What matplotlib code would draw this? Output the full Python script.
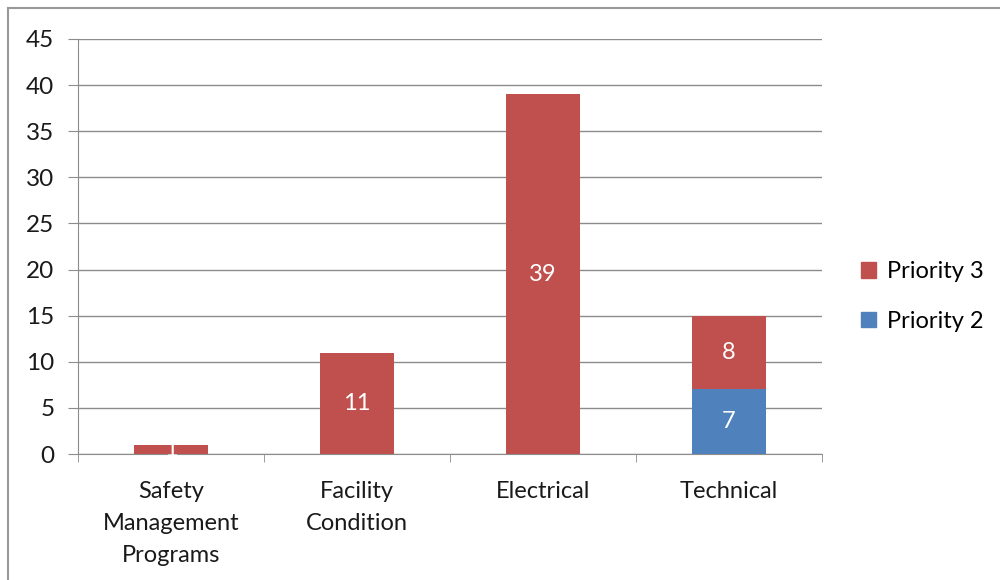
import matplotlib.pyplot as plt
import numpy as np
from matplotlib.lines import Line2D

plt.rcParams['font.family'] = ['Lato', 'DejaVu Sans']

categories = ['Safety\nManagement\nPrograms', 'Facility\nCondition', 'Electrical', 'Technical']
priority2 = [0, 0, 0, 7]
priority3 = [1, 11, 39, 8]

red = '#C0504D'
blue = '#4F81BD'
grid = '#8C8C8C'

fig = plt.figure(figsize=(10, 5.8), dpi=100)
ax = fig.add_axes([0.078, 0.2172, 0.744, 0.7156])

x = np.arange(len(categories))
b2 = ax.bar(x, priority2, width=0.4, color=blue, label='Priority 2', zorder=3)
b3 = ax.bar(x, priority3, width=0.4, bottom=priority2, color=red, label='Priority 3', zorder=3)

for bars, vals in ((b2, priority2), (b3, priority3)):
    for rect, v in zip(bars, vals):
        if v:
            ax.text(rect.get_x() + rect.get_width() / 2, rect.get_y() + rect.get_height() / 2,
                    str(v), ha='center', va='center', color='white', fontsize=17, zorder=4)

ax.set_xlim(-0.5, 3.5)
ax.set_ylim(0, 45)
ax.set_yticks(range(0, 46, 5))
ax.yaxis.grid(True, color=grid, linewidth=1, zorder=0)
ax.set_xticks([])
ax.set_xticks(np.arange(-0.5, 4, 1), minor=True)
ax.tick_params(axis='x', which='minor', length=6, color=grid, direction='out')
ax.tick_params(axis='y', length=7, color=grid, labelsize=17.5, pad=10, labelcolor='#1a1a1a')
for i, c in enumerate(categories):
    ax.text(i, -2.9, c, ha='center', va='top', fontsize=17, color='#1a1a1a', linespacing=1.64)
for s in ['top', 'right']:
    ax.spines[s].set_visible(False)
ax.spines['left'].set_color(grid)
ax.spines['bottom'].set_color(grid)

handles = [plt.Rectangle((0, 0), 1, 1, color=red), plt.Rectangle((0, 0), 1, 1, color=blue)]
fig.legend(handles, ['Priority 3', 'Priority 2'], loc='center left', bbox_to_anchor=(0.852, 0.489),
           frameon=False, fontsize=17, handlelength=0.62, handleheight=0.62, handletextpad=0.45,
           labelspacing=1.2, borderaxespad=0)

fig.add_artist(Line2D([0.008, 0.008], [0, 0.986], transform=fig.transFigure, color='#999999', lw=1.5))
fig.add_artist(Line2D([0.008, 1.0], [0.986, 0.986], transform=fig.transFigure, color='#999999', lw=1.5))

fig.savefig('out.png', dpi=100)
